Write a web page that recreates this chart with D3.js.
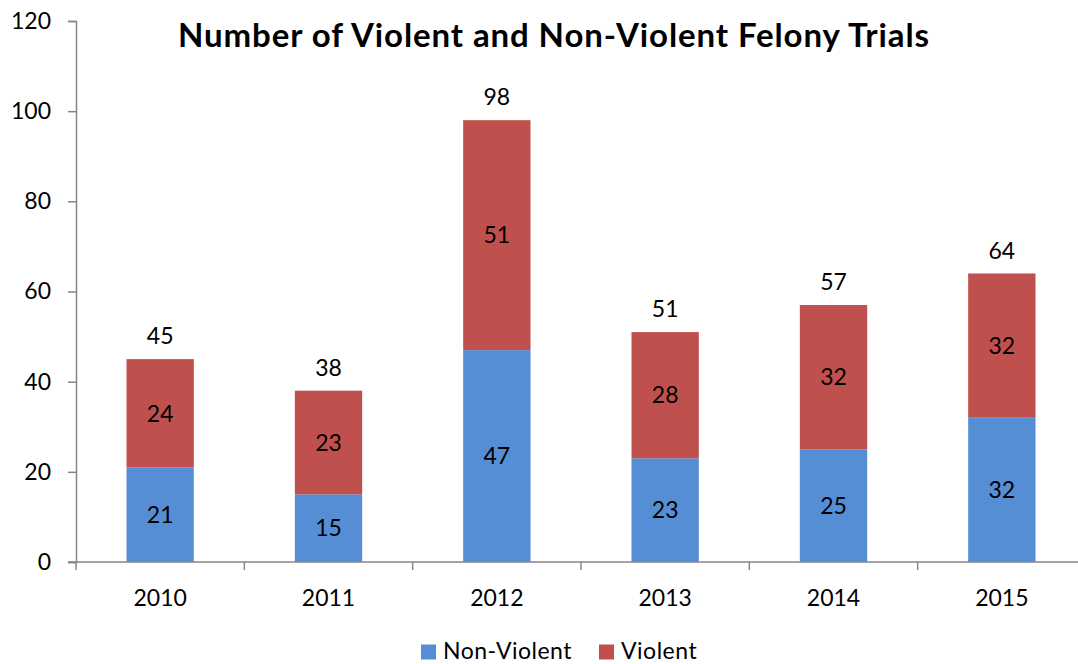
<!DOCTYPE html>
<html>
<head>
<meta charset="utf-8">
<script src="https://cdn.jsdelivr.net/npm/d3@7"></script>
<style>
  html, body { margin: 0; padding: 0; background: #fff; }
  svg { display: block; }
  text { font-family: Lato, "Open Sans", sans-serif; fill: #000; }
</style>
</head>
<body>
<svg id="chart" width="1078" height="664"></svg>
<script>
const years = ["2010", "2011", "2012", "2013", "2014", "2015"];
const nonViolent = [21, 15, 47, 23, 25, 32];
const violent = [24, 23, 51, 28, 32, 32];
const yTicks = [0, 20, 40, 60, 80, 100, 120];
const seriesNames = ["Non-Violent", "Violent"];
const seriesColors = ["#558ED5", "#C0504D"];
const title = "Number of Violent and Non-Violent Felony Trials";

const svg = d3.select("#chart");
const labelSize = "23px";

const x = d3.scaleBand().domain(years).range([76, 1086]).paddingInner(0.6).paddingOuter(0.3);
const y = d3.scaleLinear().domain([0, 120]).range([562, 21]);

const rows = years.map((yr, i) => ({ year: yr, "Non-Violent": nonViolent[i], "Violent": violent[i] }));
const stacked = d3.stack().keys(seriesNames)(rows);

// Stacked bars
const layers = svg.append("g").selectAll("g")
  .data(stacked).join("g")
  .attr("fill", (d, i) => seriesColors[i]);

layers.selectAll("rect")
  .data(d => d).join("rect")
  .attr("x", d => x(d.data.year))
  .attr("y", d => y(d[1]))
  .attr("width", x.bandwidth())
  .attr("height", d => y(d[0]) - y(d[1]));

// Segment value labels
layers.selectAll("text")
  .data(d => d).join("text")
  .attr("x", d => x(d.data.year) + x.bandwidth() / 2)
  .attr("y", d => (y(d[0]) + y(d[1])) / 2)
  .attr("dy", "0.36em")
  .attr("text-anchor", "middle")
  .style("font-size", labelSize)
  .style("fill", "#000")
  .text(d => d[1] - d[0]);

// Totals above bars
svg.append("g").selectAll("text")
  .data(rows).join("text")
  .attr("x", d => x(d.year) + x.bandwidth() / 2)
  .attr("y", d => y(d["Non-Violent"] + d["Violent"]) - 23)
  .attr("dy", "0.36em")
  .attr("text-anchor", "middle")
  .style("font-size", labelSize)
  .text(d => d["Non-Violent"] + d["Violent"]);

// Y axis
const yAxis = svg.append("g")
  .attr("transform", "translate(76,0)")
  .call(d3.axisLeft(y).tickValues(yTicks).tickSize(8).tickPadding(17));
yAxis.selectAll("line, path").attr("stroke", "#868686").attr("stroke-width", 1.5);
yAxis.selectAll("text").style("font-size", labelSize).style("font-family", "Lato, 'Open Sans', sans-serif").attr("fill", "#000");

// X axis with ticks between categories
const xAxisG = svg.append("g").attr("transform", "translate(0,562)");
xAxisG.append("line")
  .attr("x1", 68).attr("x2", 1086)
  .attr("stroke", "#868686").attr("stroke-width", 1.5);
const step = x.step();
const boundaries = years.map(yr => x(yr) - (step - x.bandwidth()) / 2);
xAxisG.selectAll("line.tick")
  .data(boundaries).join("line")
  .attr("class", "tick")
  .attr("x1", d => d).attr("x2", d => d)
  .attr("y1", 0).attr("y2", 8)
  .attr("stroke", "#868686").attr("stroke-width", 1.5);
xAxisG.selectAll("text")
  .data(years).join("text")
  .attr("x", d => x(d) + x.bandwidth() / 2)
  .attr("y", 36)
  .attr("dy", "0.36em")
  .attr("text-anchor", "middle")
  .style("font-size", labelSize)
  .text(d => d);

// Title
svg.append("text")
  .attr("x", 554).attr("y", 35)
  .attr("dy", "0.36em")
  .attr("text-anchor", "middle")
  .style("font-size", "33px")
  .style("font-weight", "bold")
  .style("letter-spacing", "0.9px")
  .text(title);

// Legend
const legend = svg.append("g").attr("transform", "translate(421,651)");
const legendX = [0, 178];
seriesNames.forEach((name, i) => {
  const g = legend.append("g").attr("transform", `translate(${legendX[i]},0)`);
  g.append("rect").attr("x", 0).attr("y", -6.5).attr("width", 15).attr("height", 15).attr("fill", seriesColors[i]);
  g.append("text").attr("x", 22).attr("y", 0).attr("dy", "0.36em")
    .style("font-size", "23px").style("letter-spacing", "0.5px").text(name);
});
</script>
</body>
</html>
